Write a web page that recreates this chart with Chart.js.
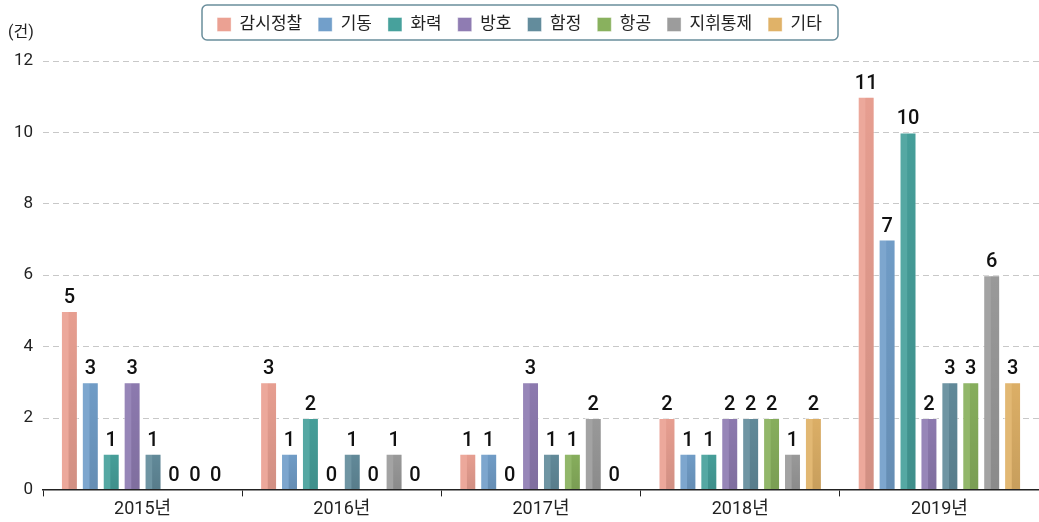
<!DOCTYPE html>
<html>
<head>
<meta charset="utf-8">
<script src="https://cdn.jsdelivr.net/npm/chart.js@4/dist/chart.umd.min.js"></script>
<style>
  html, body { margin: 0; padding: 0; background: #ffffff; }
</style>
</head>
<body>
<canvas id="grafico" width="1039" height="522"></canvas>
<script>
// 연도
const anos = ['2015년', '2016년', '2017년', '2018년', '2019년'];

// 분야별 건수
const gamsi = [5, 3, 1, 2, 11];
const gidong = [3, 1, 1, 1, 7];
const hwaryeok = [1, 2, 0, 1, 10];
const bangho = [3, 0, 3, 2, 2];
const hamjeong = [1, 1, 1, 2, 3];
const hanggong = [0, 0, 1, 2, 3];
const jihwi = [0, 1, 2, 1, 6];
const gita = [0, 0, 0, 2, 3];

const yTicks = [0, 2, 4, 6, 8, 10, 12];
const fonte = "Roboto, 'Noto Sans CJK KR', sans-serif";

// espaço extra abaixo da legenda
const espacoLegenda = {
  id: 'espacoLegenda',
  beforeInit(chart) {
    const fitOriginal = chart.legend.fit;
    chart.legend.fit = function () {
      fitOriginal.bind(chart.legend)();
      this.height += 18;
    };
  }
};

// sombreado das barras + rótulos
const rotulos = {
  id: 'rotulos',
  afterDatasetsDraw(chart) {
    const ctx = chart.ctx;
    ctx.save();
    chart.data.datasets.forEach((ds, i) => {
      chart.getDatasetMeta(i).data.forEach((bar) => {
        const h = bar.base - bar.y;
        if (h <= 0) return;
        const w = bar.width;
        const esq = bar.x - w / 2;
        const g = ctx.createLinearGradient(0, bar.y, 0, bar.base);
        g.addColorStop(0, 'rgba(0,0,0,0.02)');
        g.addColorStop(1, 'rgba(0,0,0,0.11)');
        ctx.fillStyle = g;
        ctx.fillRect(esq + w * 0.45, bar.y + 1, w * 0.55 - 1, h - 1);
        ctx.fillStyle = 'rgba(255,255,255,0.08)';
        ctx.fillRect(esq + 1, bar.y + 1, w * 0.45 - 1, h - 1);
      });
    });
    ctx.font = '500 20px ' + fonte;
    ctx.fillStyle = '#111';
    ctx.textAlign = 'center';
    ctx.textBaseline = 'bottom';
    chart.data.datasets.forEach((ds, i) => {
      chart.getDatasetMeta(i).data.forEach((bar, j) => {
        ctx.fillText(ds.data[j], bar.x, bar.y - 3);
      });
    });
    ctx.restore();
  }
};

// caixa da legenda e unidade
const extras = {
  id: 'extras',
  afterDraw(chart) {
    const ctx = chart.ctx;
    ctx.save();
    ctx.strokeStyle = '#6a8e9c';
    ctx.lineWidth = 1.5;
    ctx.beginPath();
    ctx.roundRect(202, 5, 636, 35, 5);
    ctx.stroke();
    ctx.font = '16px ' + fonte;
    ctx.fillStyle = '#222';
    ctx.textAlign = 'left';
    ctx.textBaseline = 'middle';
    ctx.fillText('(건)', 8, 33);
    ctx.restore();
  }
};

const canvas = document.getElementById('grafico').getContext('2d');

const grafico = new Chart(canvas, {
  type: 'bar',
  data: {
    labels: anos,
    datasets: [
      { label: '감시정찰', data: gamsi, backgroundColor: '#eba193' },
      { label: '기동', data: gidong, backgroundColor: '#729fca' },
      { label: '화력', data: hwaryeok, backgroundColor: '#47a19c' },
      { label: '방호', data: bangho, backgroundColor: '#8f7cb2' },
      { label: '함정', data: hamjeong, backgroundColor: '#638c9c' },
      { label: '항공', data: hanggong, backgroundColor: '#89b15e' },
      { label: '지휘통제', data: jihwi, backgroundColor: '#9c9c9c' },
      { label: '기타', data: gita, backgroundColor: '#e0b268' }
    ]
  },
  options: {
    responsive: false,
    animation: false,
    datasets: {
      bar: {
        categoryPercentage: 0.84,
        barPercentage: 0.81,
        borderColor: 'rgba(255,255,255,0.55)',
        borderWidth: { top: 1, left: 1, right: 1, bottom: 0 }
      }
    },
    scales: {
      y: {
        min: 0,
        max: 12,
        afterFit(s) { s.width = 43; },
        afterBuildTicks(s) { s.ticks = yTicks.map(v => ({ value: v })); },
        border: { display: false, dash: [6, 4] },
        grid: {
          color: '#c8c8c8',
          drawTicks: false
        },
        ticks: {
          color: '#222',
          padding: 10,
          font: { family: fonte, size: 17 }
        }
      },
      x: {
        border: { display: true, color: '#222', width: 1.5 },
        grid: {
          offset: true,
          drawOnChartArea: false,
          drawTicks: true,
          tickLength: 7,
          color: '#222'
        },
        ticks: {
          color: '#222',
          padding: 2,
          maxRotation: 0,
          font: { family: fonte, size: 18 }
        }
      }
    },
    plugins: {
      legend: {
        position: 'top',
        labels: {
          color: '#222',
          boxWidth: 14,
          boxHeight: 14,
          padding: 16,
          font: { family: fonte, size: 17 }
        }
      },
      tooltip: { enabled: false }
    }
  },
  plugins: [espacoLegenda, rotulos, extras]
});
</script>
</body>
</html>
